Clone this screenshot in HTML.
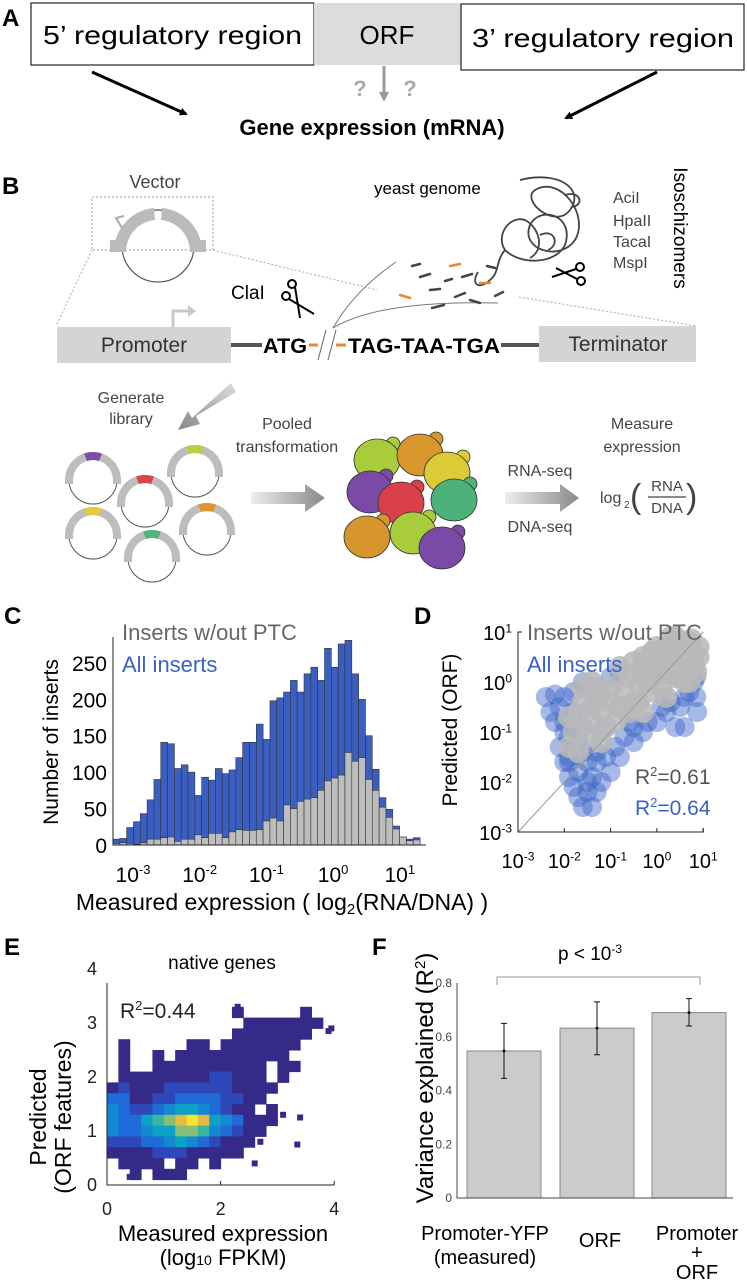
<!DOCTYPE html>
<html><head><meta charset="utf-8">
<style>
html,body{margin:0;padding:0;background:#fff;}
svg{display:block;font-family:"Liberation Sans",Arial,sans-serif;}
</style></head>
<body>
<svg id="fig" width="747" height="1280" viewBox="0 0 747 1280" xmlns="http://www.w3.org/2000/svg">
<defs>
<marker id="ah" markerWidth="8" markerHeight="8" refX="6" refY="4" orient="auto" markerUnits="userSpaceOnUse"><path d="M0,0 L8,4 L0,8 z" fill="#000"/></marker>
<marker id="ahg" markerWidth="10" markerHeight="10" refX="6" refY="5" orient="auto" markerUnits="userSpaceOnUse"><path d="M0,0 L10,5 L0,10 z" fill="#999"/></marker>
<linearGradient id="gr" x1="0" x2="1"><stop offset="0" stop-color="#eee"/><stop offset="1" stop-color="#888"/></linearGradient>
<linearGradient id="gr2" x1="1" y1="0" x2="0" y2="1"><stop offset="0" stop-color="#ddd"/><stop offset="1" stop-color="#888"/></linearGradient>
</defs>

<!-- Panel A -->
<g>
<text x="2" y="26" font-size="24" font-weight="bold">A</text>
<rect x="31" y="3" width="283" height="62" fill="#fff" stroke="#222" stroke-width="1.2"/>
<text x="43" y="44" font-size="26" textLength="259" lengthAdjust="spacingAndGlyphs">5’ regulatory region</text>
<rect x="314" y="3" width="147" height="62" fill="#dcdcdc"/>
<text x="387" y="44" font-size="26" text-anchor="middle">ORF</text>
<rect x="461" y="4" width="283" height="66" fill="#fff" stroke="#222" stroke-width="1.2"/>
<text x="472" y="47" font-size="26" textLength="262" lengthAdjust="spacingAndGlyphs">3’ regulatory region</text>
<line x1="92" y1="72" x2="186" y2="114" stroke="#000" stroke-width="3" marker-end="url(#ah)"/>
<line x1="657" y1="72" x2="566" y2="118" stroke="#000" stroke-width="3" marker-end="url(#ah)"/>
<line x1="384" y1="66" x2="384" y2="98" stroke="#999" stroke-width="3" marker-end="url(#ahg)"/>
<text x="360" y="96" font-size="22" font-weight="bold" fill="#aaa" text-anchor="middle">?</text>
<text x="410" y="96" font-size="22" font-weight="bold" fill="#aaa" text-anchor="middle">?</text>
<text x="372" y="135" font-size="22" font-weight="bold" text-anchor="middle">Gene expression (mRNA)</text>
</g>

<!-- Panel B -->
<g>
<text x="2" y="194" font-size="24" font-weight="bold">B</text>
<text x="155" y="188" font-size="18" fill="#444" text-anchor="middle">Vector</text>
<rect x="92" y="197" width="121" height="53" fill="none" stroke="#999" stroke-width="1" stroke-dasharray="2,2"/>
<g>
<circle cx="158" cy="246" r="36" fill="none" stroke="#555" stroke-width="1.2"/>
<path d="M114,252 A44,44 0 0 1 154,208 L155,220 A32,32 0 0 0 126,252 Z" fill="#bbb"/>
<path d="M162,208 A44,44 0 0 1 202,252 L190,252 A32,32 0 0 0 161,220 Z" fill="#bbb"/>
<rect x="110" y="240" width="16" height="12" fill="#bbb"/><rect x="190" y="240" width="16" height="12" fill="#bbb"/>
<path d="M122,228 L116,218 L124,216" fill="none" stroke="#aaa" stroke-width="2"/>
</g>
<line x1="92" y1="250" x2="57" y2="324" stroke="#aaa" stroke-dasharray="2,2"/>
<line x1="213" y1="250" x2="377" y2="290" stroke="#aaa" stroke-dasharray="2,2"/>
<line x1="519" y1="297" x2="696" y2="326" stroke="#aaa" stroke-dasharray="2,2"/>
<rect x="57" y="327" width="174" height="36" fill="#d4d4d4"/>
<text x="144" y="352" font-size="21" fill="#333" text-anchor="middle">Promoter</text>
<path d="M173,327 L173,311 L190,311" fill="none" stroke="#c8c8c8" stroke-width="3"/>
<path d="M188,305 L196,311 L188,317 z" fill="#c8c8c8"/>
<rect x="539" y="326" width="157" height="36" fill="#d4d4d4"/>
<text x="618" y="351" font-size="21" fill="#333" text-anchor="middle">Terminator</text>
<line x1="231" y1="345" x2="262" y2="345" stroke="#555" stroke-width="4"/>
<line x1="501" y1="345" x2="539" y2="345" stroke="#555" stroke-width="4"/>
<text x="263" y="353" font-size="21" font-weight="bold" textLength="44" lengthAdjust="spacingAndGlyphs">ATG</text>
<line x1="309" y1="345" x2="318" y2="345" stroke="#e88a2a" stroke-width="3"/>
<line x1="336" y1="345" x2="346" y2="345" stroke="#e88a2a" stroke-width="3"/>
<line x1="318" y1="360" x2="326" y2="330" stroke="#666"/>
<line x1="328" y1="360" x2="336" y2="330" stroke="#666"/>
<text x="348" y="353" font-size="21" font-weight="bold" textLength="152" lengthAdjust="spacingAndGlyphs">TAG-TAA-TGA</text>
<text x="231" y="299" font-size="19">ClaI</text>
<g stroke="#000" stroke-width="2" fill="none">
<circle cx="286" cy="296" r="4"/><circle cx="292" cy="284" r="4"/><line x1="289" y1="299" x2="314" y2="314"/><line x1="295" y1="287" x2="300" y2="318"/></g>
<path d="M333,328 Q355,290 396,262" fill="none" stroke="#777" stroke-width="1"/>
<path d="M333,328 Q380,300 498,303" fill="none" stroke="#777" stroke-width="1"/>
<text x="374" y="194" font-size="17">yeast genome</text>
<path d="M520,180 C560,170 585,190 570,210 C555,230 520,200 535,190 C560,175 590,215 575,240 C560,262 520,250 530,225 C540,205 575,215 565,245 C555,265 520,265 505,250 C495,235 510,215 525,220 C540,228 545,250 530,258 M565,195 C580,190 585,205 572,207 M540,235 C555,228 560,245 548,250 M505,250 C495,262 500,272 490,280 C480,290 470,285 478,272" fill="none" stroke="#444" stroke-width="1.8"/>
<g stroke-width="2.5" stroke-linecap="round">
<line x1="420" y1="277" x2="430" y2="274" stroke="#444"/><line x1="450" y1="266" x2="460" y2="264" stroke="#e88a2a"/><line x1="462" y1="277" x2="472" y2="274" stroke="#444"/><line x1="480" y1="283" x2="490" y2="283" stroke="#e88a2a"/><line x1="430" y1="290" x2="440" y2="289" stroke="#444"/><line x1="455" y1="297" x2="465" y2="293" stroke="#444"/><line x1="400" y1="295" x2="410" y2="298" stroke="#e88a2a"/><line x1="432" y1="308" x2="444" y2="305" stroke="#444"/><line x1="470" y1="300" x2="480" y2="303" stroke="#444"/><line x1="495" y1="296" x2="503" y2="292" stroke="#444"/><line x1="445" y1="281" x2="452" y2="279" stroke="#444"/><line x1="412" y1="266" x2="420" y2="264" stroke="#444"/><line x1="487" y1="266" x2="495" y2="268" stroke="#444"/></g>
<g stroke="#000" stroke-width="2" fill="none">
<circle cx="580" cy="267" r="4"/><circle cx="581" cy="281" r="4"/><line x1="576" y1="269" x2="552" y2="277"/><line x1="577" y1="279" x2="556" y2="268"/></g>
<text x="613" y="203" font-size="16" fill="#444">AciI</text>
<text x="613" y="226" font-size="16" fill="#444">HpaII</text>
<text x="613" y="247" font-size="16" fill="#444">TacaI</text>
<text x="613" y="268" font-size="16" fill="#444">MspI</text>
<text transform="translate(674,228) rotate(90)" font-size="19" text-anchor="middle">Isoschizomers</text>
<path d="M236,392 L196,416 L200,424 L178,430 L188,411 L192,418 L231,383 Z" fill="url(#gr2)"/>
<text x="131" y="403" font-size="16" fill="#444" text-anchor="middle">Generate</text>
<text x="131" y="424" font-size="16" fill="#444" text-anchor="middle">library</text>
<g id="plasmids"></g>
<text x="287" y="429" font-size="16" fill="#444" text-anchor="middle">Pooled</text>
<text x="287" y="452" font-size="16" fill="#444" text-anchor="middle">transformation</text>
<path d="M251,492 L305,492 L305,484 L325,498 L305,512 L305,504 L251,504 Z" fill="url(#gr)"/>
<g id="cells"></g>
<text x="540" y="476" font-size="16" fill="#444" text-anchor="middle">RNA-seq</text>
<text x="540" y="532" font-size="16" fill="#444" text-anchor="middle">DNA-seq</text>
<path d="M505,492 L560,492 L560,484 L579,498 L560,512 L560,504 L505,504 Z" fill="url(#gr)"/>
<text x="642" y="429" font-size="16" fill="#444" text-anchor="middle">Measure</text>
<text x="642" y="452" font-size="16" fill="#444" text-anchor="middle">expression</text>
<g fill="#444">
<text x="600" y="503" font-size="16">log</text><text x="624" y="508" font-size="10">2</text>
<text x="630" y="508" font-size="34" font-weight="100">(</text>
<text x="667" y="491" font-size="15" text-anchor="middle">RNA</text>
<line x1="648" y1="497" x2="686" y2="497" stroke="#444" stroke-width="1.2"/>
<text x="667" y="513" font-size="15" text-anchor="middle">DNA</text>
<text x="686" y="508" font-size="34" font-weight="100">)</text></g>
</g>

<!-- Panel C -->
<g id="panelC">
<text x="4" y="624" font-size="24" font-weight="bold">C</text>
<text x="122" y="640" font-size="22" fill="#666">Inserts w/out PTC</text>
<text x="122" y="672" font-size="22" fill="#3a62c6">All inserts</text>
<text transform="translate(58,742) rotate(-90)" font-size="21" text-anchor="middle">Number of inserts</text>
<text x="282" y="910" font-size="23" text-anchor="middle">Measured expression ( log<tspan font-size="15" dy="4">2</tspan><tspan dy="-4">(RNA/DNA) )</tspan></text>
</g>

<!-- Panel D -->
<g id="panelD">
<text x="414" y="624" font-size="24" font-weight="bold">D</text>
<text transform="translate(457,730) rotate(-90)" font-size="21" text-anchor="middle">Predicted (ORF)</text>
</g>

<!-- Panel E -->
<g id="panelE">
<text x="4" y="955" font-size="24" font-weight="bold">E</text>
<text x="222" y="969" font-size="19" text-anchor="middle">native genes</text>
<text transform="translate(46,1117) rotate(-90)" font-size="23" text-anchor="middle">Predicted</text>
<text transform="translate(71,1117) rotate(-90)" font-size="23" text-anchor="middle">(ORF features)</text>
<text x="223" y="1241" font-size="22" text-anchor="middle">Measured expression</text>
<text x="223" y="1265" font-size="22" text-anchor="middle">(log<tspan font-size="14">10</tspan> FPKM)</text>
</g>

<!-- Panel F -->
<g id="panelF">
<text x="372" y="955" font-size="24" font-weight="bold">F</text>
<text transform="translate(433,1078) rotate(-90)" font-size="24" text-anchor="middle">Variance explained (R<tspan font-size="15" dy="-8">2</tspan><tspan dy="8">)</tspan></text>
<path d="M497,985 L497,977 L700,977 L700,985" fill="none" stroke="#999" stroke-width="1"/>
<text x="590" y="960" font-size="19" text-anchor="middle">p &lt; 10<tspan font-size="12" dy="-7">-3</tspan></text>
<text x="485" y="1240" font-size="20" text-anchor="middle">Promoter-YFP</text>
<text x="485" y="1264" font-size="20" text-anchor="middle">(measured)</text>
<text x="600" y="1247" font-size="20" text-anchor="middle">ORF</text>
<text x="697" y="1240" font-size="20" text-anchor="middle">Promoter</text>
<text x="697" y="1259" font-size="20" text-anchor="middle">+</text>
<text x="697" y="1279" font-size="20" text-anchor="middle">ORF</text>
</g>
</svg>
<script>
// ---------- Panel C data ----------
const cBinStart = -3.3;
const cBinWidth = 0.1023;
const cAllInserts = [8,9,24,32,43,62,90,141,139,105,110,100,68,93,89,105,98,103,120,141,141,166,145,198,202,210,226,210,235,244,226,270,244,276,281,235,200,150,104,65,49,26,11,8,10];
const cNoPTC = [2,3,2,1,3,8,8,10,11,5,8,8,14,10,16,16,10,18,21,20,20,21,33,37,33,55,50,60,63,65,75,88,92,96,127,115,120,90,75,52,38,22,11,6,7];
const cYTicks = [0,50,100,150,200,250];
const cXTicks = [-3,-2,-1,0,1];
// ---------- Panel D data (log10 units) ----------
const dBlueX = [-2.4,-2.2,-2.1,-2.2,-2.0,-2.1,-2.0,-1.9,-1.8,-1.7,-1.6,-1.4,-1.3,-1.2,-1.0,-0.8,-0.5,-0.3,0,0.2,0.5,0.4,0.7,0.85,0.8,-1.6,-1.8,-1.0,-1.5,-1.2,-0.6,0.6,0.85,-1.7,-1.4,-1.5,-1.9,-1.3,
 -1.9,-1.7,-1.5,-1.4,-1.6,-1.3,-1.1,-0.9,-0.7,-0.5,-0.2,0.1,0.3,0.6,0.8,-2.3,-2.0,-1.8,-2.0,-1.9,-1.6,-1.3,-0.8,0.87];
const dBlueY = [-0.3,-0.25,-0.5,-0.8,-1.0,-1.3,-1.6,-1.9,-2.1,-2.3,-2.5,-2.5,-2.2,-2.0,-1.8,-1.5,-1.2,-1.0,-0.8,-0.6,-0.5,-0.9,-0.2,0.1,0.5,0.0,-0.2,0.1,-1.6,-1.0,-0.8,-0.9,-0.3,-1.2,-0.5,-2.0,-1.5,-1.4,
 -1.6,-1.8,-2.2,-1.9,-1.4,-1.6,-1.5,-1.3,-1.1,-0.9,-0.8,-0.5,-0.4,-0.3,0.0,-0.6,-0.3,-0.6,-0.8,-1.1,-0.9,-0.1,0.2,-0.6];
const dGrayX = [-1.9,-1.8,-1.7,-1.6,-1.4,-1.3,-1.2,-1.0,-1.0,-0.8,-0.7,-0.6,-0.5,-0.4,-0.3,-0.2,0,0,0.1,0.2,0.3,0.4,0.5,0.6,0.6,0.7,0.8,0.85,-1.5,-1.1,-0.3,0.2,0.5,0.3,0.0,-0.5,0.75,0.9,
 -1.9,-1.7,-1.6,-1.4,-1.2,-0.9,-0.8,-0.6,-0.4,-0.1,-0.1,0.1,0.2,0.3,0.4,0.5,0.6,0.7,0.8,0.9,0.4,0.7,-0.2,-1.2,-0.3];
const dGrayY = [-1.3,-1.0,-0.7,-0.4,-0.8,-0.3,-0.6,-0.4,-0.1,-0.5,-0.2,0.1,-0.4,0.0,0.3,-0.2,0.1,0.4,-0.1,0.3,0.6,0.1,0.4,0.7,0.0,0.3,0.6,0.2,-1.1,-0.9,-0.6,-0.3,0.8,0.9,0.7,0.4,0.85,0.5,
 -0.7,-1.4,-0.1,0.0,-1.2,-0.8,0.3,-0.6,-0.4,0.2,0.6,0.2,0.7,0.2,0.5,0.1,0.4,0.8,0.3,0.7,0.9,0.0,0.0,-0.2,0.5];
const dTicks = [-3,-2,-1,0,1];
// ---------- Panel E data: density rows (y from 3.2 down to 0.2, x cols 0..3.6 step 0.2) ----------
const eRowY = [3.2,3.0,2.8,2.6,2.4,2.2,2.0,1.8,1.6,1.4,1.2,1.0,0.8,0.6,0.4,0.2];
const eRows = [
"0000000000010000010",
"0000000000001111111",
"0000000000011111110",
"0100000110111111100",
"0100101111111111000",
"0100111111111101100",
"0111111112211101000",
"1211122222211110000",
"3311223333221100000",
"4322345543211010000",
"4335678985431110000",
"4334557764321100000",
"2223345432111000000",
"1111222111110000000",
"0111101101000000000",
"0010111000000000000"];
const eOutX = [3.9,3.95,3.35,2.6,3.4,3.1,2.7,0.4,0.9,2.3];
const eOutY = [2.85,2.9,0.75,0.4,1.25,1.3,0.8,0.15,0.18,3.3];
const eTicks = [0,2,4];
const eYTicks = [0,1,2,3,4];
// ---------- Panel F data ----------
const fCats = ["Promoter-YFP","ORF","Promoter+ORF"];
const fValues = [0.547,0.632,0.69];
const fErrLow = [0.445,0.533,0.64];
const fErrHigh = [0.65,0.73,0.742];
const fTicks = [0,0.2,0.4,0.6,0.8];

const NS="http://www.w3.org/2000/svg";
function mk(parent, tag, attrs){const e=document.createElementNS(NS,tag);for(const k in attrs)e.setAttribute(k,attrs[k]);parent.appendChild(e);return e;}
function sup(parent,x,y,base,exp,fs,anchor,fill){const t=mk(parent,'text',{x:x,y:y,'font-size':fs,'text-anchor':anchor||'middle',fill:fill||'#000'});t.textContent=base;const s=document.createElementNS(NS,'tspan');s.setAttribute('font-size',Math.round(fs*0.62));s.setAttribute('dy',-fs*0.38);s.textContent=exp;t.appendChild(s);return t;}

// ---- Panel B plasmids & cells ----
const plG=document.getElementById('plasmids');
const plCx=[93,195,145,93,207,152], plTop=[452,445,475,507,503,530];
const plCol=['#7b4fa8','#b5d23b','#d9434b','#e2cc3a','#e0962c','#4fb57a'];
for(let i=0;i<6;i++){
  const cx=plCx[i], cy=plTop[i]+28;
  const c=mk(plG,'circle',{cx:cx,cy:cy,r:24,fill:'none',stroke:'#555','stroke-width':1});
  
  
  const a=mk(plG,'path',{d:`M${cx-28},${cy+4} L${cx-28},${cy} A28,28 0 0 1 ${cx+28},${cy} L${cx+28},${cy+4} L${cx+20},${cy+4} L${cx+20},${cy} A20,20 0 0 0 ${cx-20},${cy} L${cx-20},${cy+4} Z`,fill:'#bdbdbd'});
  
  
  const ins=mk(plG,'path',{d:`M${cx-9},${cy-26.5} A28,28 0 0 1 ${cx+9},${cy-26.5} L${cx+6},${cy-19} A20,20 0 0 0 ${cx-6},${cy-19} Z`,fill:plCol[i]});
  
  
}
const cellG=document.getElementById('cells');
const cellX=[377,420,447,370,401,454,367,413,442], cellY=[460,455,473,492,503,500,537,533,548];
const cellC=['#a9cc3c','#d8982e','#dccb36','#7a4aa6','#d94049','#4cb27a','#d8952e','#a9cc3c','#7a4aa6'];
for(let i=0;i<9;i++){
  const b=mk(cellG,'circle',{cx:cellX[i]+16,cy:cellY[i]-16,r:7,fill:cellC[i],stroke:'#333','stroke-width':0.8});
  
  
  const c=mk(cellG,'ellipse',{cx:cellX[i],cy:cellY[i],rx:23,ry:21,fill:cellC[i],stroke:'#333','stroke-width':0.8});
  
  
}

// ---- Panel C ----
const gC=document.getElementById('panelC');
const xC=v=>133+(v+3)*66.7, yC=v=>845-v*0.7284;
function drawBars(arr,fill,name){
  arr.forEach((v,i)=>{const x0=xC(cBinStart+i*cBinWidth),x1=xC(cBinStart+(i+1)*cBinWidth);
    const r=mk(gC,'rect',{x:x0,y:yC(v),width:x1-x0,height:yC(0)-yC(v),fill:fill,stroke:'#333','stroke-width':0.6});
    
    });
}
drawBars(cAllInserts,'#3b5fc0','bar-all-inserts');
drawBars(cNoPTC,'#bdbdbd','bar-no-ptc');
let ax=mk(gC,'path',{d:`M113,${yC(0)-208} L113,845 L426,845`,fill:'none',stroke:'#222','stroke-width':1});


cYTicks.forEach(v=>{const t=mk(gC,'text',{x:107,y:yC(v)+8,'font-size':21,'text-anchor':'end'});t.textContent=v;
  
  });
cXTicks.forEach(v=>{const t=sup(gC,xC(v),882,'10',String(v),21,'middle');
  
  });

// ---- Panel D ----
const gD=document.getElementById('panelD');
const xD=v=>518+(v+3)*46.3, yD=v=>832-(v+3)*50;
dBlueX.forEach((v,i)=>{const c=mk(gD,'circle',{cx:xD(v),cy:yD(dBlueY[i]),r:10,fill:'#3b63c8','fill-opacity':0.45});
  
  });
dGrayX.forEach((v,i)=>{const c=mk(gD,'circle',{cx:xD(v),cy:yD(dGrayY[i]),r:11,fill:'#b8b8b8','fill-opacity':0.85});
  
  });
let dl=mk(gD,'line',{x1:xD(-3),y1:yD(-3),x2:xD(1),y2:yD(1),stroke:'#999','stroke-width':1});


let axD=mk(gD,'path',{d:`M${xD(-3)+4},${yD(1)} L${xD(-3)},${yD(1)} L${xD(-3)},${yD(-3)} L${xD(1)},${yD(-3)} L${xD(1)},${yD(-3)-4}`,fill:'none',stroke:'#222','stroke-width':1});


dTicks.forEach(v=>{
  const tk=mk(gD,'line',{x1:xD(v),y1:yD(-3),x2:xD(v),y2:yD(-3)-4,stroke:'#222'});
  
  
  const t=sup(gD,xD(v),868,'10',String(v),20,'middle');
  
  
  const u=sup(gD,512,yD(v)+8,'10',String(v),20,'end');
  
  });
[['Inserts w/out PTC','#666',640,'legend-no-ptc'],['All inserts','#3a62c6',672,'legend-all-inserts']].forEach(a=>{
  const t=mk(gD,'text',{x:527,y:a[2],'font-size':22,fill:a[1]});t.textContent=a[0];
  
  });
[['0.61','#555',784,'r2-no-ptc'],['0.64','#3a62c6',815,'r2-all-inserts']].forEach(a=>{
  const t=sup(gD,635,a[2],'R','2',21,'start',a[1]);
  const s=document.createElementNS(NS,'tspan');s.setAttribute('dy',8);s.textContent='=' + a[0];t.appendChild(s);
  
  });

// ---- Panel E ----
const gE=document.getElementById('panelE');
const xE=v=>107+v*56.8, yE=v=>1185-v*54;
const pal=['#fff','#352a87','#2e48b9','#1f6bd8','#1389d2','#0ca2c4','#3ab5a0','#86bf78','#e6b940','#f7e52e'];
eRows.forEach((row,ri)=>{for(let c=0;c<row.length;c++){const d=+row[c];if(!d)continue;
  const x=c*0.2, y=eRowY[ri];
  const r=mk(gE,'rect',{x:xE(x),y:yE(y+0.1),width:xE(0.2)-xE(0)+0.5,height:yE(0)-yE(0.2)+0.5,fill:pal[d]});
  
  }});
eOutX.forEach((v,i)=>{const r=mk(gE,'rect',{x:xE(v)-3,y:yE(eOutY[i])-3,width:6,height:6,fill:pal[1]});
  
  });
let axE=mk(gE,'path',{d:`M${xE(0)},983 L${xE(0)},${yE(0)} L${xE(4)},${yE(0)}`,fill:'none',stroke:'#222','stroke-width':1});


eTicks.forEach(v=>{const t=mk(gE,'text',{x:xE(v),y:1215,'font-size':18,'text-anchor':'middle',fill:'#222'});t.textContent=v;
  
  
  const k=mk(gE,'line',{x1:xE(v),y1:yE(0),x2:xE(v),y2:yE(0)-4,stroke:'#222'});
  
  });
eYTicks.forEach(v=>{const t=mk(gE,'text',{x:97,y:yE(v)+6,'font-size':18,'text-anchor':'end',fill:'#222'});t.textContent=v;
  
  });
let r2e=sup(gE,120,1018,'R','2',21,'start','#222');
{const s=document.createElementNS(NS,'tspan');s.setAttribute('dy',8);s.textContent='=0.44';r2e.appendChild(s);}



// ---- Panel F ----
const gF=document.getElementById('panelF');
const yF=v=>1198-v*268.75;
const barX=[467,560,652], barW=74;
fValues.forEach((v,i)=>{
  const r=mk(gF,'rect',{x:barX[i],y:yF(v),width:barW,height:yF(0)-yF(v),fill:'#cbcbcb',stroke:'#888','stroke-width':1});
  
  
  const cx=barX[i]+barW/2;
  const e=mk(gF,'path',{d:`M${cx},${yF(fErrLow[i])} L${cx},${yF(fErrHigh[i])} M${cx-3},${yF(fErrLow[i])} L${cx+3},${yF(fErrLow[i])} M${cx-3},${yF(fErrHigh[i])} L${cx+3},${yF(fErrHigh[i])}`,stroke:'#111','stroke-width':1,fill:'none'});
  
  
  const d=mk(gF,'circle',{cx:cx,cy:yF(v),r:1.5,fill:'#111'});
  
  });
let axF=mk(gF,'path',{d:`M457,${yF(0.8)} L457,${yF(0)} L733,${yF(0)}`,fill:'none',stroke:'#444','stroke-width':1});


fTicks.forEach(v=>{const t=mk(gF,'text',{x:452,y:yF(v)+4,'font-size':12,'text-anchor':'end',fill:'#444'});t.textContent=v===0?'0':v.toFixed(1);
  
  });
</script>
</body></html>
